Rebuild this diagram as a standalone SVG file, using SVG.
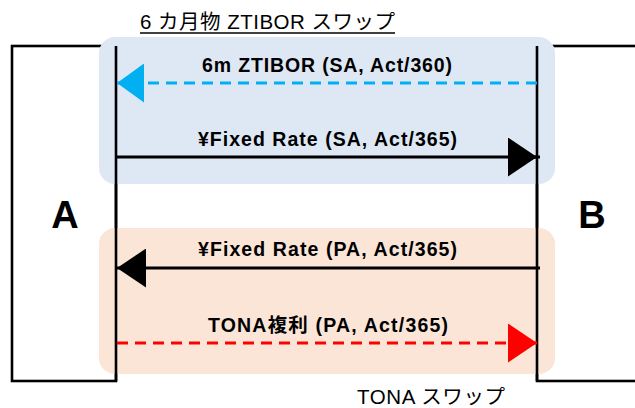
<svg xmlns="http://www.w3.org/2000/svg" width="635" height="408" viewBox="0 0 635 408">
<style>
.box{fill:#fff;stroke:#000;stroke-width:2.6}
.lbl{font-family:"Liberation Sans","Noto Sans CJK JP",sans-serif;font-weight:bold;font-size:19.5px;fill:#000;text-anchor:middle}
.big{font-family:"Liberation Sans",sans-serif;font-weight:bold;font-size:38px;fill:#000;text-anchor:middle}
.cap{font-family:"Liberation Sans","Noto Sans CJK JP",sans-serif;font-size:20.5px;fill:#000}
.ln{fill:none;stroke-width:3}
.dash{stroke-dasharray:11 7}
</style>
<defs>
<marker id="hBlack" markerUnits="userSpaceOnUse" markerWidth="29" markerHeight="39" refX="29" refY="19.5" orient="auto"><path d="M0,0 L29,19.5 L0,39 z" fill="#000"/></marker>
<marker id="hBlue" markerUnits="userSpaceOnUse" markerWidth="27" markerHeight="39" refX="27" refY="19.5" orient="auto"><path d="M0,0 L27,19.5 L0,39 z" fill="#00B0F0"/></marker>
<marker id="hRed" markerUnits="userSpaceOnUse" markerWidth="29" markerHeight="39" refX="29" refY="19.5" orient="auto"><path d="M0,0 L29,19.5 L0,39 z" fill="#FF0000"/></marker>
</defs>
<rect width="635" height="408" fill="#fff"/>
<g id="nodeA"><rect class="box" x="12" y="46" width="104" height="335"/><text class="big" x="65" y="228">A</text></g>
<g id="nodeB"><rect class="box" x="537" y="46" width="120" height="335"/><text class="big" x="592" y="228">B</text></g>
<g id="groupZTIBOR">
<rect x="99" y="37" width="456" height="147" rx="16" fill="#DEE8F5"/>
<text class="cap" x="140" y="29" textLength="255" lengthAdjust="spacing">6 カ月物 ZTIBOR スワップ</text>
<line x1="140" y1="33" x2="395" y2="33" stroke="#000" stroke-width="1.6"/>
</g>
<g id="groupTONA">
<rect x="99" y="228" width="456" height="146" rx="16" fill="#FBE5D7"/>
<text class="cap" x="357" y="404" font-size="21.5" textLength="148" lengthAdjust="spacing">TONA スワップ</text>
</g>
<g id="lifelines"><line x1="116" y1="46" x2="116" y2="381" stroke="#000" stroke-width="2.6"/><line x1="537" y1="46" x2="537" y2="381" stroke="#000" stroke-width="2.6"/></g>
<g id="connectors">
<line class="ln dash" x1="537" y1="83" x2="117" y2="83" stroke="#00B0F0" marker-end="url(#hBlue)"/>
<text class="lbl" x="327" y="72" textLength="250" lengthAdjust="spacing">6m ZTIBOR (SA, Act/360)</text>
<line class="ln" x1="117" y1="157" x2="537" y2="157" stroke="#000" marker-end="url(#hBlack)"/>
<line x1="530" y1="157" x2="540" y2="157" stroke="#000" stroke-width="3"/>
<text class="lbl" x="327.5" y="146" textLength="259" lengthAdjust="spacing">¥Fixed Rate (SA, Act/365)</text>
<line class="ln" x1="540" y1="268" x2="117" y2="268" stroke="#000" marker-end="url(#hBlack)"/>
<text class="lbl" x="327.5" y="256" textLength="259" lengthAdjust="spacing">¥Fixed Rate (PA, Act/365)</text>
<line class="ln dash" x1="117" y1="343" x2="537" y2="343" stroke="#FF0000" marker-end="url(#hRed)"/>
<text class="lbl" x="328" y="332" textLength="240" lengthAdjust="spacing">TONA複利 (PA, Act/365)</text>
</g>
</svg>
